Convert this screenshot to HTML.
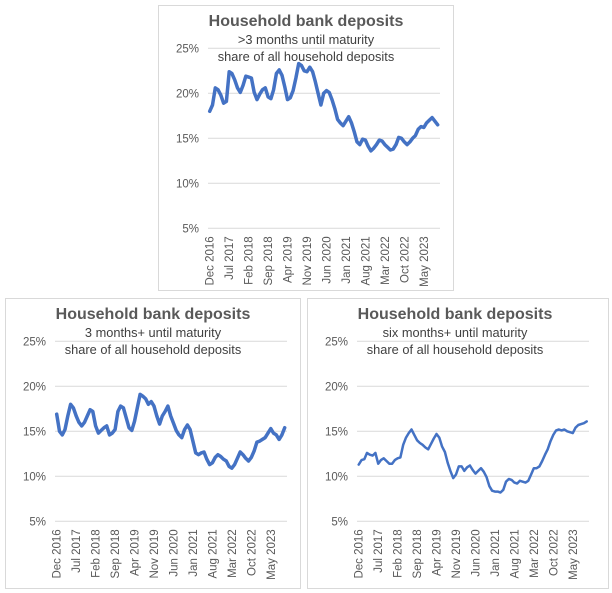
<!DOCTYPE html>
<html><head><meta charset="utf-8">
<style>
body{margin:0;background:#fff;width:612px;height:593px;overflow:hidden;font-family:"Liberation Sans",sans-serif}
svg{position:absolute;left:0;top:0}
</style></head><body>
<svg id="c" width="612" height="593"></svg>
<script>
const months=["Dec 2016","Jul 2017","Feb 2018","Sep 2018","Apr 2019","Nov 2019","Jun 2020","Jan 2021","Aug 2021","Mar 2022","Oct 2022","May 2023"];
const yTicks=[5,10,15,20,25];
const seriesA=[18.0,18.7,20.6,20.4,19.8,18.9,19.1,22.4,22.2,21.5,20.6,20.1,20.9,21.9,21.8,21.7,20.1,19.3,19.9,20.4,20.6,19.6,19.4,20.4,22.2,22.6,22.0,20.7,19.3,19.5,20.3,21.7,23.3,23.1,22.5,22.4,22.9,22.4,21.3,20.0,18.7,20.0,20.3,20.1,19.3,18.3,17.1,16.7,16.4,16.9,17.4,16.7,15.7,14.6,14.3,14.9,14.8,14.1,13.6,13.9,14.3,14.8,14.7,14.3,14.0,13.7,13.8,14.3,15.1,15.0,14.6,14.3,14.6,15.0,15.3,16.0,16.3,16.2,16.7,17.0,17.3,16.9,16.5];
const seriesB=[16.9,15.0,14.6,15.2,16.7,18.0,17.6,16.7,16.0,15.6,16.0,16.7,17.4,17.2,15.6,14.8,15.1,15.4,15.6,14.6,14.8,15.2,17.2,17.8,17.6,16.5,15.4,15.1,16.1,17.6,19.1,18.9,18.6,18.0,18.3,17.8,16.7,15.8,16.7,17.2,17.8,16.7,15.9,15.1,14.6,14.3,15.2,15.7,15.2,13.9,12.6,12.4,12.6,12.7,11.9,11.3,11.5,12.1,12.4,12.2,11.9,11.7,11.1,10.9,11.3,12.0,12.7,12.4,12.0,11.7,12.1,12.8,13.8,13.9,14.1,14.3,14.8,15.3,14.8,14.6,14.1,14.6,15.4];
const seriesC=[11.3,11.8,11.9,12.6,12.4,12.3,12.6,11.4,11.8,12.0,11.7,11.4,11.4,11.8,12.0,12.1,13.5,14.3,14.8,15.2,14.6,14.0,13.7,13.5,13.2,13.0,13.6,14.2,14.7,14.3,13.3,12.7,11.5,10.6,9.8,10.2,11.1,11.1,10.6,11.0,11.2,10.7,10.3,10.6,10.9,10.5,9.9,8.9,8.4,8.3,8.3,8.2,8.5,9.4,9.7,9.6,9.3,9.2,9.5,9.4,9.3,9.5,10.2,10.9,10.9,11.1,11.7,12.4,13.0,13.9,14.6,15.1,15.2,15.1,15.2,15.0,14.9,14.8,15.4,15.7,15.8,15.9,16.1];
const NS="http://www.w3.org/2000/svg";
const svg=document.getElementById('c');
function mk(tag,attrs,parent){const e=document.createElementNS(NS,tag);for(const k in attrs)e.setAttribute(k,attrs[k]);parent.appendChild(e);return e;}
function panel(ox,oy,w,h,sub,data,lw,name){
  const g=mk('g',{transform:`translate(${ox},${oy})`},svg);
  
  
  const bg=mk('rect',{x:0.5,y:0.5,width:w-1,height:h-1,fill:'#fff',stroke:'#d9d9d9'},g);
  
  
  const L=50,R=282,T=43.3,B=223.3;
  const yS=v=>B-(v-5)/20*(B-T);
  const xS=i=>L+1.7+i*2.78;
  const t=mk('text',{x:148,y:21,'text-anchor':'middle','font-size':'16','font-weight':'bold',fill:'#595959'},g);
  t.textContent='Household bank deposits';
  
  
  sub.forEach((s,k)=>{const st=mk('text',{x:148,y:39+k*17,'text-anchor':'middle','font-size':'12.8',fill:'#404040'},g);st.textContent=s;
    
    });
  yTicks.forEach(v=>{
    const gl=mk('line',{x1:L,x2:R,y1:yS(v),y2:yS(v),stroke:'#d9d9d9','stroke-width':1},g);
    
    
    const tl=mk('text',{x:41,y:yS(v)+4,'text-anchor':'end','font-size':'11.5',fill:'#595959'},g);
    tl.textContent=v+'%';
    
    
  });
  months.forEach((m,k)=>{
    const x=xS(k*7)+4;
    const tl=mk('text',{x:0,y:0,'text-anchor':'end','font-size':'11.5',fill:'#595959',transform:`translate(${x},${B+8}) rotate(-90)`},g);
    tl.textContent=m;
    
    
  });
  const d=data.map((v,i)=>(i?'L':'M')+xS(i).toFixed(1)+' '+yS(v).toFixed(1)).join(' ');
  const p=mk('path',{d:d,fill:'none',stroke:'#4472C4','stroke-width':lw,'stroke-linejoin':'round','stroke-linecap':'round'},g);
  
  
}
panel(158,5,296,286,['>3 months until maturity','share of all household deposits'],seriesA,3.5,'chart-over-3-months');
panel(5,298,296,291,['3 months+ until maturity','share of all household deposits'],seriesB,3.5,'chart-3-months-plus');
panel(307,298,302,291,['six months+ until maturity','share of all household deposits'],seriesC,2.5,'chart-six-months-plus');
</script>
</body></html>
